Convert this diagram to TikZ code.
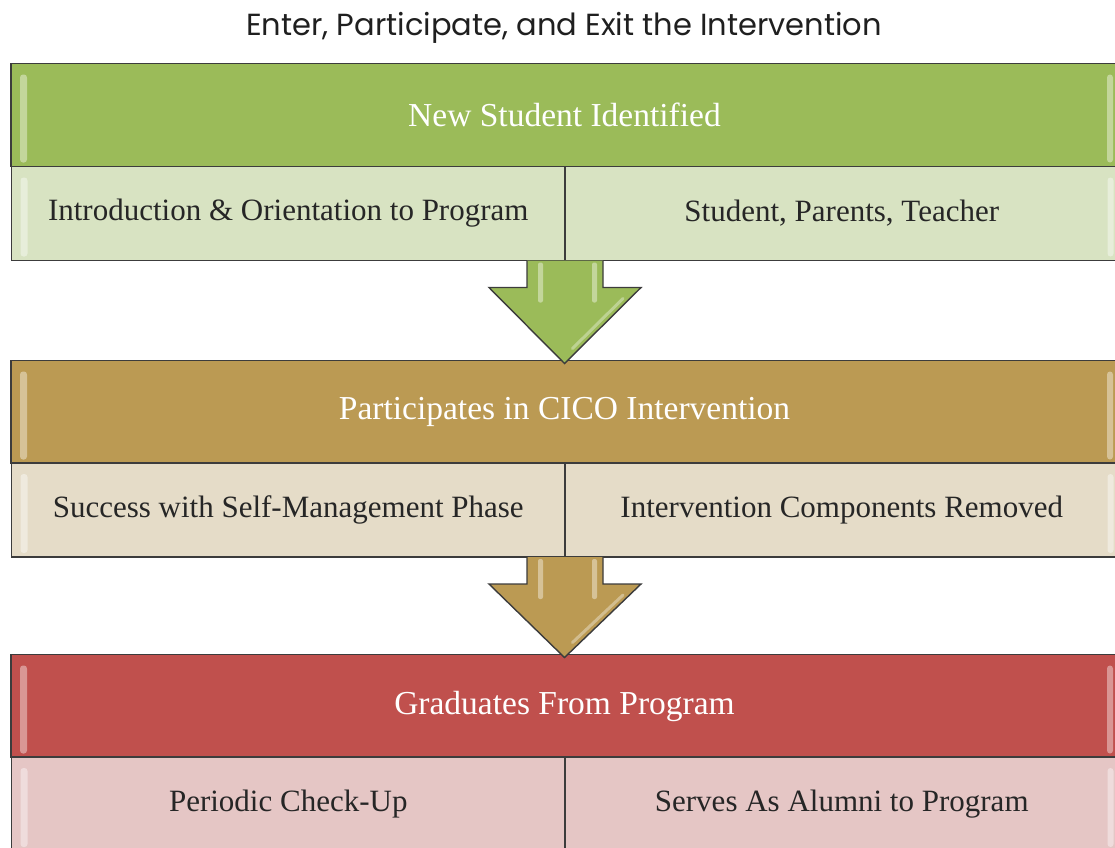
\documentclass[tikz,border=0pt]{standalone}
\usepackage{fontspec}
\setmainfont{Liberation Serif}
\newfontfamily\titlefont{Poppins}
\usetikzlibrary{calc}

\definecolor{hdgreen}{HTML}{9BBB59}
\definecolor{subgreen}{HTML}{D8E3C2}
\definecolor{hdgold}{HTML}{BB9A53}
\definecolor{subgold}{HTML}{E5DCC8}
\definecolor{hdred}{HTML}{C0504D}
\definecolor{subred}{HTML}{E5C6C5}
\definecolor{rim}{HTML}{3C3C3C}

\newcommand{\flowarrow}[3]{%
	\draw [arrowbody, fill=#3] ($(#1)+(-38,0)$) -- ($(#1)+(-38,27)$) -- ($(#1)+(-76,27)$)
		-- ($(#2)+(0,3)$) -- ($(#1)+(76,27)$) -- ($(#1)+(38,27)$) -- ($(#1)+(38,0)$);
	\fill [white, opacity=.4, rounded corners=2pt] ($(#1)+(-27,2)$) rectangle ($(#1)+(-22,42)$);
	\fill [white, opacity=.4, rounded corners=2pt] ($(#1)+(27,2)$) rectangle ($(#1)+(32,42)$);
	\draw [white, opacity=.35, line width=3pt, line cap=round] ($(#1)+(58,38)$) -- ($(#2)+(8,-12)$);
}

\tikzset{
	box/.style={draw=rim, line width=1.6pt, outer sep=0pt, inner sep=0pt,
		font=\fontsize{31}{35}\selectfont},
	head/.style={box, minimum width=1107pt, minimum height=103pt, text=white,
		font=\fontsize{33.5}{38}\selectfont},
	cell/.style={box, minimum width=553.5pt, minimum height=94pt, text=black!85},
	glowl/.style={path picture={\fill [white, opacity=.4, rounded corners=3pt]
		([xshift=9pt, yshift=-11pt]path picture bounding box.north west) rectangle
		([xshift=16pt, yshift=4pt]path picture bounding box.south west);}},
	glowr/.style={path picture={\fill [white, opacity=.4, rounded corners=3pt]
		([xshift=-11pt, yshift=-11pt]path picture bounding box.north east) rectangle
		([xshift=-5pt, yshift=4pt]path picture bounding box.south east);}},
	glowlr/.style={path picture={\fill [white, opacity=.4, rounded corners=3pt]
		([xshift=9pt, yshift=-11pt]path picture bounding box.north west) rectangle
		([xshift=16pt, yshift=4pt]path picture bounding box.south west);
		\fill [white, opacity=.4, rounded corners=3pt]
		([xshift=-11pt, yshift=-11pt]path picture bounding box.north east) rectangle
		([xshift=-5pt, yshift=4pt]path picture bounding box.south east);}},
	arrowbody/.style={draw=rim, line width=1.4pt, line join=miter}
}

\begin{document}
\begin{tikzpicture}[x=1pt, y=-1pt]
	\useasboundingbox (0,0) rectangle (1115,847);

	\node [font=\titlefont\fontsize{30.5}{36}\selectfont, text=black!88] (title) at (564,28) {Enter, Participate, and Exit the Intervention};

	\node [head, fill=hdgreen, glowlr] (new) at (564.5,115) {New Student Identified};
	\node [cell, fill=subgreen, glowl] (intro) at (288.25,213.5) {Introduction \& Orientation to Program};
	\node [cell, fill=subgreen, glowr] (family) at (841.75,213.5) {Student, Parents, Teacher};

	\node [head, fill=hdgold, glowlr] (cico) at (564.5,412) {Participates in CICO Intervention};
	\node [cell, fill=subgold, glowl] (selfman) at (288.25,510) {Success with Self-Management Phase};
	\node [cell, fill=subgold, glowr] (removed) at (841.75,510) {Intervention Components Removed};

	\node [head, fill=hdred, glowlr] (grad) at (564.5,706) {Graduates From Program};
	\node [cell, fill=subred, glowl] (checkup) at (288.25,804) {Periodic Check-Up};
	\node [cell, fill=subred, glowr] (alumni) at (841.75,804) {Serves As Alumni to Program};

	\flowarrow{intro.south east}{cico.north}{hdgreen}
	\flowarrow{selfman.south east}{grad.north}{hdgold}
\end{tikzpicture}
\end{document}
